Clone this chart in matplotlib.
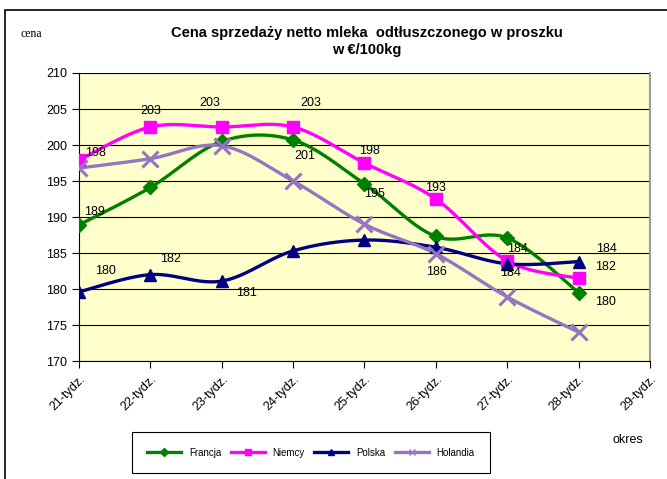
import numpy as np
import matplotlib
matplotlib.use("Agg")
import matplotlib.pyplot as plt
from matplotlib.patches import Rectangle

plt.rcParams["font.family"] = ["Liberation Sans", "DejaVu Sans"]

# Dane
tygodnie = ["21-tydz.", "22-tydz.", "23-tydz.", "24-tydz.", "25-tydz.",
            "26-tydz.", "27-tydz.", "28-tydz.", "29-tydz."]
francja = [188.9, 194.1, 200.5, 200.7, 194.6, 187.3, 187.1, 179.5]
niemcy = [197.9, 202.5, 202.5, 202.5, 197.5, 192.5, 183.9, 181.5]
polska = [179.6, 182.0, 181.1, 185.3, 186.8, 185.8, 183.5, 183.8]
holandia = [196.8, 198.1, 199.9, 195.0, 189.0, 184.9, 178.9, 174.0]

serie = [
    ("Francja", francja, "#008000", "D", 7),
    ("Niemcy", niemcy, "#FF00FF", "s", 9),
    ("Polska", polska, "#000080", "^", 9),
    ("Holandia", holandia, "#9575C0", "x", 11),
]

# Etykiety wartości: (seria, indeks, dx, dy) w pikselach
etykiety = [
    ("Francja", 0, 16, 13), ("Francja", 3, 12, -16), ("Francja", 4, 10, -10),
    ("Francja", 7, 27, -9),
    ("Niemcy", 0, 17, 7), ("Niemcy", 1, 0, 16), ("Niemcy", 2, -12, 24),
    ("Niemcy", 3, 18, 24), ("Niemcy", 4, 5, 12), ("Niemcy", 5, 0, 11),
    ("Niemcy", 6, 10, 12), ("Niemcy", 7, 27, 11),
    ("Polska", 0, 27, 21), ("Polska", 1, 20, 16), ("Polska", 2, 25, -12),
    ("Polska", 5, 1, -25), ("Polska", 6, 3, -9), ("Polska", 7, 28, 13),
]


def wygladz(x, y, n=30):
    # krzywa Beziera przez punkty (jak "wygładzona linia" w Excelu)
    x = np.asarray(x, float)
    y = np.asarray(y, float)
    px = np.concatenate([[x[0]], x, [x[-1]]])
    py = np.concatenate([[y[0]], y, [y[-1]]])
    xs, ys = [], []
    t = np.linspace(0, 1, n)
    for i in range(len(x) - 1):
        p0 = np.array([px[i + 1], py[i + 1]])
        p3 = np.array([px[i + 2], py[i + 2]])
        c1 = p0 + (np.array([px[i + 2], py[i + 2]]) - np.array([px[i], py[i]])) / 6
        c2 = p3 - (np.array([px[i + 3], py[i + 3]]) - np.array([px[i + 1], py[i + 1]])) / 6
        b = ((1 - t) ** 3)[:, None] * p0 + (3 * (1 - t) ** 2 * t)[:, None] * c1 \
            + (3 * (1 - t) * t ** 2)[:, None] * c2 + (t ** 3)[:, None] * p3
        xs.extend(b[:, 0])
        ys.extend(b[:, 1])
    return xs, ys


fig = plt.figure(figsize=(6.67, 4.79), dpi=100)
ax = fig.add_axes([0.1184, 0.2463, 0.8561, 0.6013])
ax.set_facecolor("#FFFFCC")

x = np.arange(len(francja))
dane = {}
for nazwa, wart, kolor, marker, ms in serie:
    dane[nazwa] = wart
    sx, sy = wygladz(x, wart)
    ax.plot(sx, sy, color=kolor, linewidth=2.4, zorder=3)
    ax.plot(x, wart, linestyle="none", marker=marker, markersize=ms, color=kolor,
            markeredgewidth=2.2 if marker == "x" else 1, zorder=4)
    ax.plot([], [], color=kolor, linewidth=2.4, marker=marker,
            markersize=4, label=nazwa)

for nazwa, i, dx, dy in etykiety:
    v = dane[nazwa][i]
    ax.annotate(str(int(np.floor(v + 0.5))), (i, v), xytext=(dx, dy),
                textcoords="offset pixels", ha="center", va="center",
                fontsize=9, zorder=5)

ax.set_xlim(0, len(tygodnie) - 1)
ax.set_ylim(170, 210)
ax.set_yticks(range(170, 211, 5))
ax.set_xticks(range(len(tygodnie)))
ax.set_xticklabels(tygodnie, rotation=45, ha="right", rotation_mode="anchor")
ax.tick_params(axis="both", labelsize=9, direction="out", length=5, width=0.8)
ax.grid(axis="y", color="black", linewidth=0.8)
ax.set_axisbelow(True)
ax.spines["right"].set_color("#999999")
ax.spines["right"].set_linewidth(1.5)
ax.spines["top"].set_visible(False)

fig.text(0.55, 0.932, "Cena sprzedaży netto mleka  odtłuszczonego w proszku",
         ha="center", va="center", fontsize=10.5, fontweight="bold")
fig.text(0.55, 0.895, "w €/100kg", ha="center", va="center",
         fontsize=10.5, fontweight="bold")
fig.text(0.03, 0.93, "cena", ha="left", va="center", fontsize=8.5,
         family=["Liberation Serif", "DejaVu Serif"])
fig.text(0.942, 0.082, "okres", ha="center", va="center", fontsize=9)

leg = fig.legend(loc="center", bbox_to_anchor=(0.19, 0.0146, 0.552, 0.081),
                 mode="expand", ncol=4, fontsize=7, frameon=True,
                 fancybox=False, edgecolor="black", handlelength=3.5,
                 borderpad=1.6, framealpha=1)
leg.get_frame().set_linewidth(0.8)

fig.patches.append(Rectangle((0.0075, -0.01), 1.0, 0.989, transform=fig.transFigure,
                             fill=False, edgecolor="black", linewidth=1.2))

fig.savefig("out.png", dpi=100)
